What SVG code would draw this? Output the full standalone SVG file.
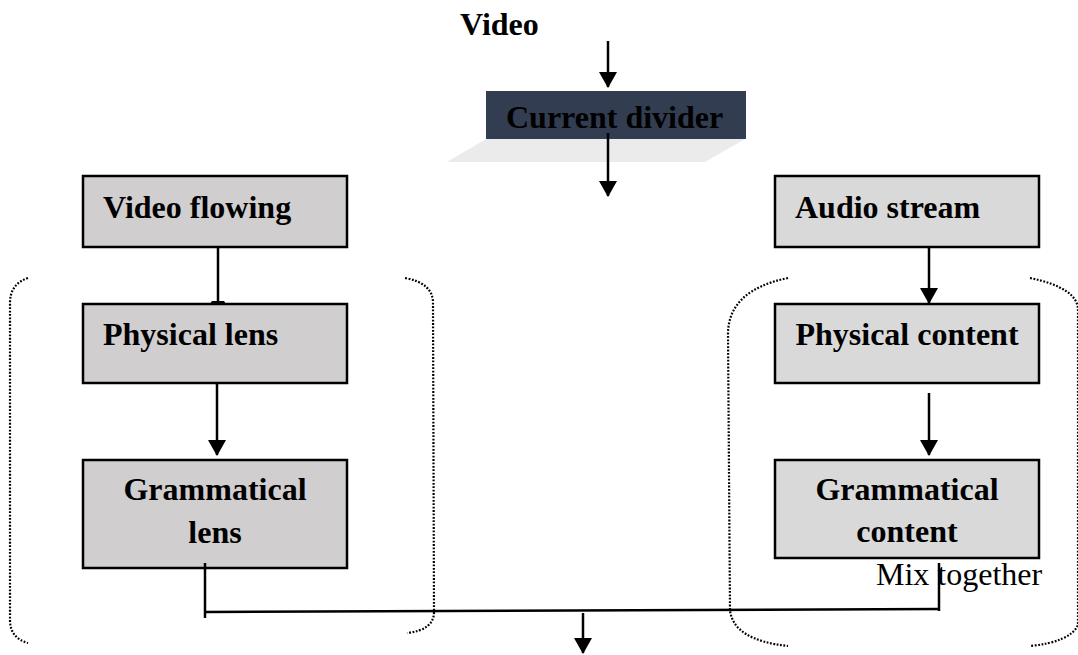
<svg xmlns="http://www.w3.org/2000/svg" width="1078" height="655" viewBox="0 0 1078 655">
<style>
.box{stroke:#000;stroke-width:2.5}
.l{fill:#d0cece}
.r{fill:#d9d9d9}
.t{font-family:"Liberation Serif","Times New Roman",serif;font-size:32px;font-weight:bold;fill:#000}
.n{font-family:"Liberation Serif","Times New Roman",serif;font-size:32px;fill:#000}
.c{stroke:#000;stroke-width:2.5;fill:none}
.br{stroke:#000;stroke-width:2.2;fill:none;stroke-dasharray:1.8 1.6}
</style>
<defs>
<marker id="ah" markerUnits="userSpaceOnUse" markerWidth="16" markerHeight="18" viewBox="0 0 16 18" refX="15" refY="9" orient="auto">
<path d="M0,0 L16,9 L0,18 Z" fill="#000"/>
</marker>
</defs>
<rect width="1078" height="655" fill="#fff"/>
<g id="brackets">
<path class="br" d="M28,278 Q10,284 10,303 L10,620 Q10,638 28,643"/>
<path class="br" d="M405,278 Q433,283 433,303 L434,612 Q434,630 407,633"/>
<path class="br" d="M788,278 Q729,290 728,333 L730,610 Q733,640 788,646"/>
<path class="br" d="M1030,278 Q1078,288 1078,310 L1078,625 Q1070,642 1030,646"/>
</g>
<g id="video-label"><text class="t" x="460" y="35">Video</text></g>
<g id="current-divider">
<polygon points="486,139 745,139 705,162 447,162" fill="#ebebeb"/>
<rect x="486" y="91" width="260" height="48" fill="#333d51"/>
<text class="t" x="506" y="128">Current divider</text>
</g>
<g id="video-flowing"><rect class="box l" x="83" y="176" width="264" height="71"/><text class="t" x="103" y="218">Video flowing</text></g>
<g id="physical-lens"><rect class="box l" x="83" y="304" width="264" height="79"/><text class="t" x="103" y="345">Physical lens</text></g>
<g id="grammatical-lens"><rect class="box l" x="83" y="460" width="264" height="108"/><text class="t" x="215" y="500" text-anchor="middle">Grammatical</text><text class="t" x="215" y="543" text-anchor="middle">lens</text></g>
<g id="audio-stream"><rect class="box r" x="775" y="176" width="264" height="71"/><text class="t" x="795" y="218">Audio stream</text></g>
<g id="physical-content"><rect class="box r" x="775" y="304" width="264" height="79"/><text class="t" x="907" y="345" text-anchor="middle">Physical content</text></g>
<g id="grammatical-content"><rect class="box r" x="775" y="460" width="264" height="98"/><text class="t" x="907" y="500" text-anchor="middle">Grammatical</text><text class="t" x="907" y="542" text-anchor="middle">content</text></g>
<g id="mix-label"><text class="n" x="876" y="585">Mix together</text></g>
<g id="connectors">
<line class="c" x1="608" y1="41" x2="608" y2="87" marker-end="url(#ah)"/>
<line class="c" x1="608" y1="133" x2="608" y2="196" marker-end="url(#ah)"/>
<line class="c" x1="218" y1="247" x2="218" y2="302"/>
<polygon points="210,304 226,304 224,301 212,301" fill="#000"/>
<line class="c" x1="217" y1="383" x2="217" y2="455" marker-end="url(#ah)"/>
<line class="c" x1="929" y1="247" x2="929" y2="303" marker-end="url(#ah)"/>
<line class="c" x1="929" y1="393" x2="929" y2="455" marker-end="url(#ah)"/>
<line class="c" x1="205" y1="563" x2="205" y2="618"/>
<line class="c" x1="939" y1="563" x2="939" y2="611"/>
<line class="c" x1="205" y1="612" x2="939" y2="609"/>
<line class="c" x1="583" y1="613" x2="583" y2="653" marker-end="url(#ah)"/>
</g>
</svg>
